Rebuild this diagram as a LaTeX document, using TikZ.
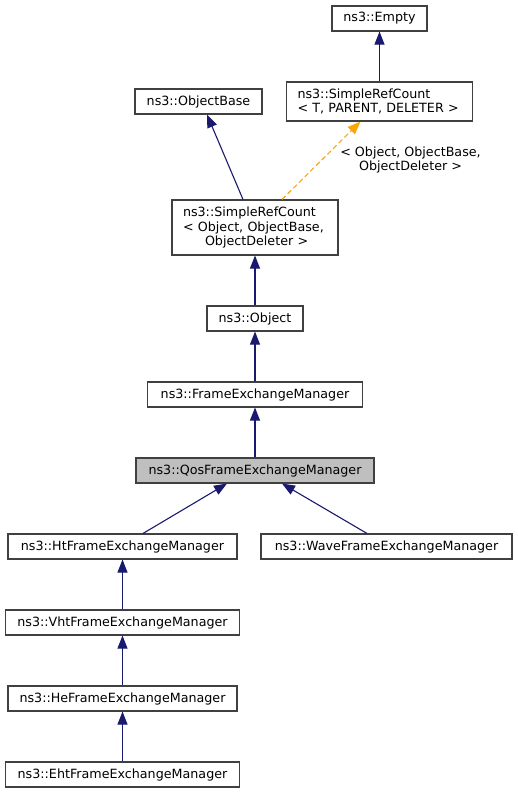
\documentclass[tikz,border=0pt]{standalone}
\usepackage{fontspec}
\setmainfont{DejaVu Sans}
\usetikzlibrary{arrows.meta}
\newlength{\du}
\setlength{\du}{1pt}
\definecolor{edgecolor}{HTML}{191970}
\definecolor{tmplcolor}{HTML}{FFA500}
\definecolor{boxline}{HTML}{404040}
\definecolor{boxcur}{HTML}{BFBFBF}
\tikzset{
  classbox/.style={draw=boxline, line width=1.1\du, fill=white, minimum height=25\du,
    inner sep=0pt, font=\fontsize{12.7}{14.7}\selectfont},
  tmplbox/.style={classbox, align=left, inner xsep=11\du},
  inherit/.style={edgecolor, line width=1.1\du, -{Triangle[length=13pt,width=10pt]}},
  tmplinst/.style={tmplcolor, line width=1.1\du, dash pattern=on 5\du off 3\du,
    -{Triangle[length=13pt,width=10pt]}},
}

\begin{document}
\begin{tikzpicture}
\pgftransformyscale{-1}
\useasboundingbox (0\du,0\du) rectangle (518\du,793\du);
% classes
\node[classbox, minimum width=95\du] (empty) at (379.5\du,18.5\du) {ns3::Empty};
\node[tmplbox, text width=164\du, minimum height=39\du] (tref) at (379.5\du,101.5\du)
  {ns3::SimpleRefCount\\< T, PARENT, DELETER >};
\node[classbox, minimum width=127\du] (objbase) at (198.5\du,101.5\du) {ns3::ObjectBase};
\node[tmplbox, text width=144\du, minimum height=55\du] (sro) at (255\du,227.5\du)
  {ns3::SimpleRefCount\\< Object, ObjectBase,\\\hspace*{22\du}ObjectDeleter >};
\node[classbox, minimum width=96\du] (object) at (255\du,318.5\du) {ns3::Object};
\node[classbox, minimum width=215\du] (fem) at (255\du,394.5\du) {ns3::FrameExchangeManager};
\node[classbox, minimum width=238\du, fill=boxcur] (qos) at (255\du,470.5\du) {ns3::QosFrameExchangeManager};
\node[classbox, minimum width=229\du] (ht) at (122.5\du,546.5\du) {ns3::HtFrameExchangeManager};
\node[classbox, minimum width=251\du] (wave) at (386.5\du,546.5\du) {ns3::WaveFrameExchangeManager};
\node[classbox, minimum width=234\du] (vht) at (122.5\du,622.5\du) {ns3::VhtFrameExchangeManager};
\node[classbox, minimum width=229\du] (he) at (122.5\du,698.5\du) {ns3::HeFrameExchangeManager};
\node[classbox, minimum width=234\du] (eht) at (122.5\du,774.5\du) {ns3::EhtFrameExchangeManager};
% template argument label
\node[font=\fontsize{12.7}{14.7}\selectfont, align=center, inner sep=0pt] (tmpllabel)
  at (410.5\du,160\du) {< Object, ObjectBase,\\ObjectDeleter >};
% inheritance
\draw[inherit] (tref) -- (empty);
\draw[inherit] ([xshift=-12\du]sro.north) -- ([xshift=8.5\du]objbase.south);
\draw[tmplinst] ([xshift=27\du]sro.north) -- ([xshift=-19\du]tref.south);
\draw[inherit] (object) -- (sro);
\draw[inherit] (fem) -- (object);
\draw[inherit] (qos) -- (fem);
\draw[inherit] ([xshift=20.5\du]ht.north) -- ([xshift=-28\du]qos.south);
\draw[inherit] ([xshift=-19.5\du]wave.north) -- ([xshift=27\du]qos.south);
\draw[inherit] (vht) -- (ht);
\draw[inherit] (he) -- (vht);
\draw[inherit] (eht) -- (he);
\end{tikzpicture}
\end{document}
